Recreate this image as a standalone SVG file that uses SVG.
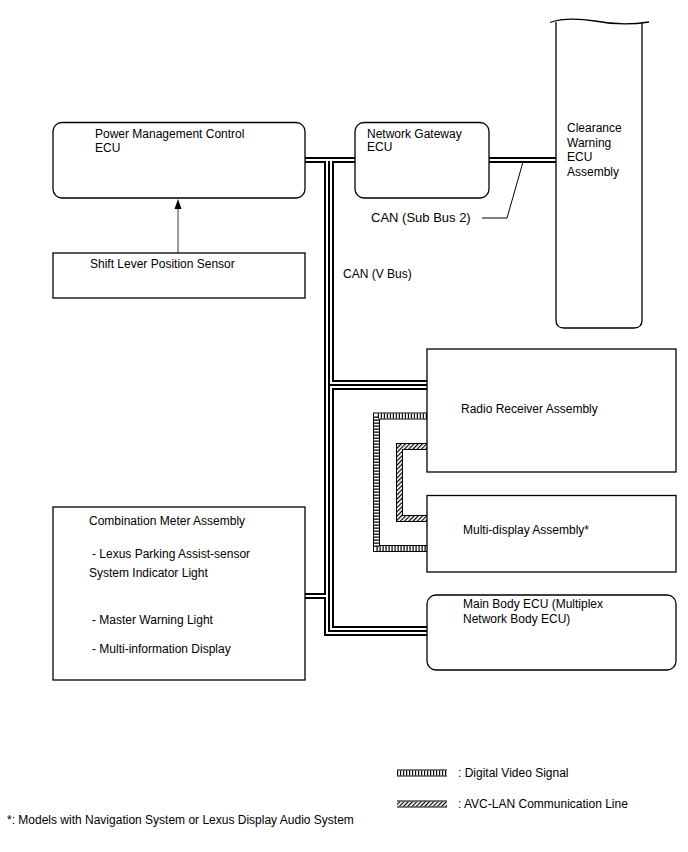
<svg xmlns="http://www.w3.org/2000/svg" width="688" height="852" viewBox="0 0 688 852">
<style>
text{font-family:"Liberation Sans",Arial,sans-serif;font-size:12px;fill:#000}
.box{fill:#fff;stroke:#000;stroke-width:1.3}
.wb{fill:none;stroke:#000;stroke-width:6}
.ww{fill:none;stroke:#fff;stroke-width:2}
.dv1{fill:none;stroke:#000;stroke-width:7}
.dv2{fill:none;stroke:#fff;stroke-width:5}
.dv3{fill:none;stroke:#000;stroke-width:5;stroke-dasharray:1.2 1.8}
.av3{fill:none;stroke:url(#hatch);stroke-width:5}
</style>
<defs>
<pattern id="hatch" patternUnits="userSpaceOnUse" width="3" height="3" patternTransform="rotate(45)"><rect x="0" y="0" width="1.2" height="3" fill="#000"/></pattern>
</defs>
<rect width="688" height="852" fill="#fff"/>

<g id="connectors">
<g id="can-black">
<path class="wb" d="M305,160 H355"/>
<path class="wb" d="M489,160 H556"/>
<path class="wb" d="M327,160 V596 H305"/>
<path class="wb" d="M331,160 V383 H427"/>
<path class="wb" d="M427,387 H331 V629 H427"/>
<path class="wb" d="M327,596 V633 H427"/>
</g>
<g id="can-white">
<path class="ww" d="M305,160 H355"/>
<path class="ww" d="M489,160 H556"/>
<path class="ww" d="M327,160 V596 H305"/>
<path class="ww" d="M331,160 V383 H427"/>
<path class="ww" d="M427,387 H331 V629 H427"/>
<path class="ww" d="M327,596 V633 H427"/>
</g>
<path d="M482,218 H507 L523,162" fill="none" stroke="#000" stroke-width="1"/>
<line x1="178" y1="253" x2="178" y2="208" stroke="#666" stroke-width="1.3"/>
<polygon points="178,199 174.5,209 181.5,209" fill="#000"/>
<g id="dvs">
<path class="dv1" d="M427,416 H376.5 V548.5 H427"/>
<path class="dv2" d="M427,416 H376.5 V548.5 H427"/>
<path class="dv3" d="M427,416 H376.5 V548.5 H427"/>
</g>
<g id="avc">
<path class="dv1" d="M427,446.5 H399.5 V518.5 H427"/>
<path class="dv2" d="M427,446.5 H399.5 V518.5 H427"/>
<path class="av3" d="M427,446.5 H399.5 V518.5 H427"/>
</g>
</g>

<g id="pmc">
<rect class="box" x="53" y="122.5" width="252" height="75.5" rx="9"/>
<text x="95" y="138">Power Management Control</text>
<text x="95" y="152">ECU</text>
</g>
<g id="shift">
<rect class="box" x="53" y="253" width="252" height="45"/>
<text x="90" y="268">Shift Lever Position Sensor</text>
</g>
<g id="gateway">
<rect class="box" x="355" y="122.5" width="134" height="75.5" rx="9"/>
<text x="367" y="138">Network Gateway</text>
<text x="367" y="151">ECU</text>
</g>
<g id="clearance">
<path class="box" d="M556,22 V320 Q556,328 564,328 H634 Q642,328 642,320 V22"/>
<path d="M550,22.5 C560,19 575,18 595,21 C615,25 630,25 649,22" fill="none" stroke="#000" stroke-width="1.3"/>
<text x="567" y="132">Clearance</text>
<text x="567" y="146.5">Warning</text>
<text x="567" y="161">ECU</text>
<text x="567" y="175.5">Assembly</text>
</g>
<text x="371" y="222" style="font-size:13px">CAN (Sub Bus 2)</text>
<text x="343" y="278">CAN (V Bus)</text>
<g id="radio">
<rect class="box" x="427" y="349" width="249" height="123"/>
<text x="461" y="413">Radio Receiver Assembly</text>
</g>
<g id="multidisplay">
<rect class="box" x="427" y="495.5" width="249" height="76.5"/>
<text x="463" y="534">Multi-display Assembly*</text>
</g>
<g id="mainbody">
<rect class="box" x="427" y="595" width="249" height="75" rx="9"/>
<text x="463" y="608">Main Body ECU (Multiplex</text>
<text x="463" y="623">Network Body ECU)</text>
</g>
<g id="combination">
<rect class="box" x="53" y="507" width="252" height="173"/>
<text x="89" y="525">Combination Meter Assembly</text>
<text x="92" y="558">- Lexus Parking Assist-sensor</text>
<text x="89" y="577">System Indicator Light</text>
<text x="92" y="624">- Master Warning Light</text>
<text x="92" y="653">- Multi-information Display</text>
</g>
<g id="legend">
<path class="dv1" d="M397,773 H447"/>
<path class="dv2" d="M397,773 H447"/>
<path class="dv3" d="M397,773 H447"/>
<text x="458" y="777">: Digital Video Signal</text>
<path class="dv1" d="M397,804 H447"/>
<path class="dv2" d="M397,804 H447"/>
<path class="av3" d="M397,804 H447"/>
<text x="458" y="808">: AVC-LAN Communication Line</text>
</g>
<text x="7" y="824">*: Models with Navigation System or Lexus Display Audio System</text>
</svg>
